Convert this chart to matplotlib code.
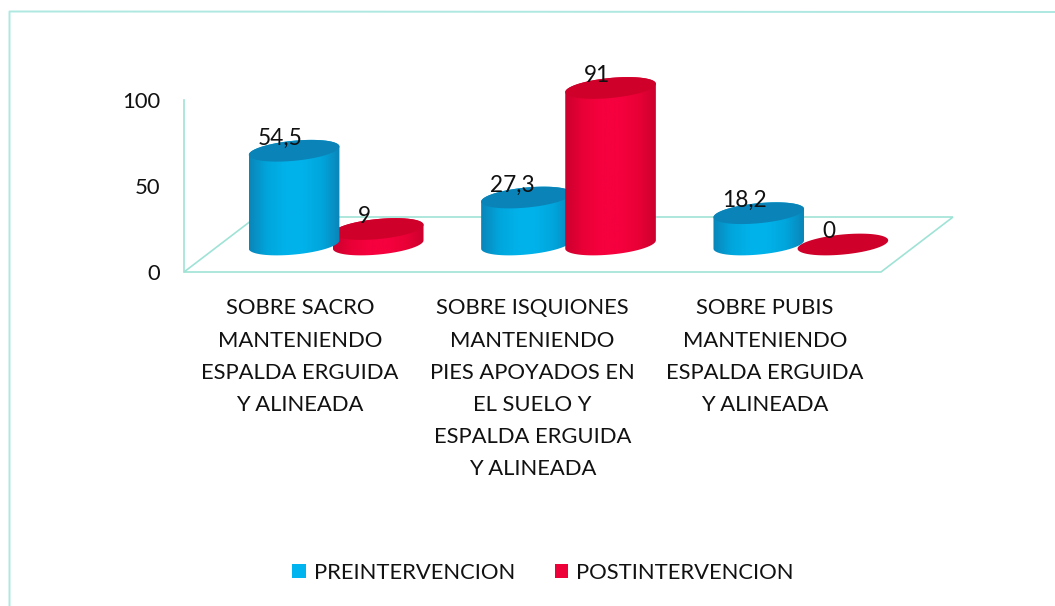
import numpy as np
import matplotlib
matplotlib.use('Agg')
import matplotlib.pyplot as plt
from matplotlib.lines import Line2D
from matplotlib.patches import Patch, PathPatch, Polygon
from matplotlib.path import Path
from matplotlib.colors import LinearSegmentedColormap

plt.rcParams['font.family'] = ['Lato', 'DejaVu Sans']

categories = ['SOBRE SACRO\nMANTENIENDO\nESPALDA ERGUIDA\nY ALINEADA',
              'SOBRE ISQUIONES\nMANTENIENDO\nPIES APOYADOS EN\nEL SUELO Y\nESPALDA ERGUIDA\nY ALINEADA',
              'SOBRE PUBIS\nMANTENIENDO\nESPALDA ERGUIDA\nY ALINEADA']
pre = [54.5, 27.3, 18.2]
post = [9, 91, 0]
y_ticks = [0, 50, 100]
series_names = ['PREINTERVENCION', 'POSTINTERVENCION']

W, H = 1055, 606
line_col = '#9fe3d6'
border_col = '#aee8e0'
text_col = '#111111'
blue_side = ['#0a86ba', '#00a6dc', '#00b2ea', '#00b2ea', '#00a6dc', '#0a86ba']
red_side = ['#cc002e', '#ea0036', '#f6003e', '#f6003e', '#ea0036', '#cc002e']
blue_top = '#0a84b8'
red_top = '#cf0029'

fig = plt.figure(figsize=(W / 100, H / 100), dpi=100)
# chart frame, only the top and left edges survive in the scan
fig.add_artist(Line2D([9.5 / W, 9.5 / W, 1], [0, 1 - 11.5 / H, 1 - 12 / H], color=border_col, lw=1.4))

ax = fig.add_axes([184 / W, 1 - 272 / H, 697 / W, 172 / H])

# scale of the axes in pixels, used for the 3d look
px_x = 697 / 3
px_y = 172 / 100
depth_x = 72 / px_x
depth_y = 55 / px_y
semi_a, semi_b, tilt = 45.5, 10, np.radians(5.5)


def ellipse(cx, cy, t):
    x = semi_a * np.cos(t) * np.cos(tilt) - semi_b * np.sin(t) * np.sin(tilt)
    y = semi_a * np.cos(t) * np.sin(tilt) + semi_b * np.sin(t) * np.cos(tilt)
    return cx + x / px_x, cy + y / px_y


def cylinder(xc, value, side, top, z):
    base = depth_y / 2
    cx = xc + depth_x / 2
    t = np.linspace(0, 2 * np.pi, 121)
    tx, ty = ellipse(cx, base + value, t)
    if value > 0:
        t0 = np.arctan2(-semi_b * np.sin(tilt), semi_a * np.cos(tilt))
        lower = np.linspace(t0 + np.pi, t0 + 2 * np.pi, 60)
        upper = np.linspace(t0, t0 + np.pi, 60)
        bx, by = ellipse(cx, base, lower)
        ux, uy = ellipse(cx, base + value, upper)
        verts = np.r_[np.c_[bx, by], np.c_[ux, uy], [[bx[0], by[0]]]]
        clip = PathPatch(Path(verts), transform=ax.transData, fc='none', ec='none')
        ax.add_patch(clip)
        cmap = LinearSegmentedColormap.from_list('side', side)
        im = ax.imshow(np.linspace(0, 1, 100)[None, :], cmap=cmap, aspect='auto', zorder=z,
                       extent=(verts[:, 0].min(), verts[:, 0].max(), 0, verts[:, 1].max()))
        im.set_clip_box(fig.bbox)
        im.set_clip_path(clip)
    ax.add_patch(Polygon(np.c_[tx, ty], closed=True, fc=top, ec='none', zorder=z + 0.1, clip_on=False))
    ax.annotate(f'{value:g}'.replace('.', ','), (cx, base + value), xytext=(-10, 9),
                textcoords='offset points', ha='center', va='center', fontsize=16.3,
                color=text_col, zorder=300, annotation_clip=False)


# floor of the 3d chart
ax.add_patch(Polygon([(-0.5, 0), (2.5, 0), (2.5 + depth_x, depth_y), (-0.5 + depth_x, depth_y)],
                     closed=True, fill=False, ec=line_col, lw=1.2, clip_on=False, zorder=1))

x = np.arange(len(categories))
for i in x:
    cylinder(i - 0.181, pre[i], blue_side, blue_top, 10 + pre[i])
    cylinder(i + 0.181, post[i], red_side, red_top, 10 + post[i])

ax.set_xlim(-0.5, 2.5)
ax.set_ylim(0, 100)
ax.set_yticks(y_ticks)
ax.set_xticks(x, categories)
ax.tick_params(length=0)
ax.tick_params(axis='y', labelsize=15.8, pad=17, labelcolor=text_col)
ax.tick_params(axis='x', labelsize=15.8, pad=19, labelcolor=text_col)
for lab in ax.get_xticklabels():
    lab.set_linespacing(1.76)
for s in ['top', 'right', 'bottom']:
    ax.spines[s].set_visible(False)
ax.spines['left'].set_color(line_col)
ax.spines['left'].set_linewidth(1.2)
ax.patch.set_alpha(0)

handles = [Patch(fc='#00b4f0', label=series_names[0]), Patch(fc='#ee0038', label=series_names[1])]
fig.legend(handles=handles, ncol=2, frameon=False, fontsize=15.8, loc='center',
           bbox_to_anchor=(543 / W, 1 - 573 / H), handlelength=0.62, handleheight=0.62,
           handletextpad=0.37, columnspacing=1.8, labelcolor=text_col)

fig.savefig('out.png', dpi=100)
